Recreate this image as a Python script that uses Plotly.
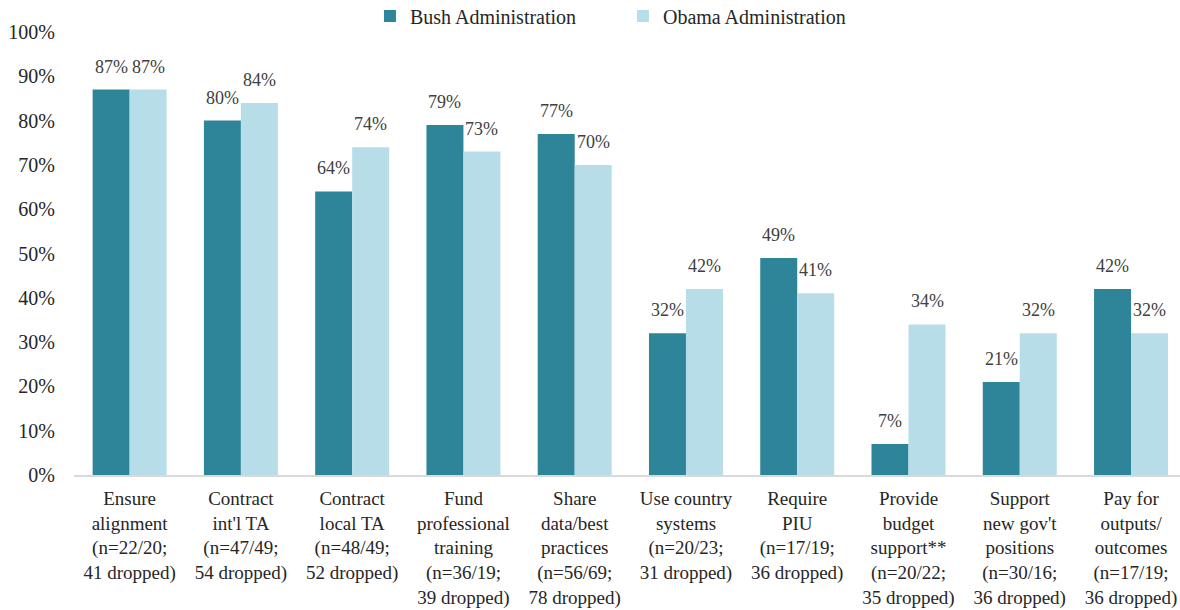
import plotly.graph_objects as go

categories = [
    "Ensure<br>alignment<br>(n=22/20;<br>41 dropped)",
    "Contract<br>int'l TA<br>(n=47/49;<br>54 dropped)",
    "Contract<br>local TA<br>(n=48/49;<br>52 dropped)",
    "Fund<br>professional<br>training<br>(n=36/19;<br>39 dropped)",
    "Share<br>data/best<br>practices<br>(n=56/69;<br>78 dropped)",
    "Use country<br>systems<br>(n=20/23;<br>31 dropped)",
    "Require<br>PIU<br>(n=17/19;<br>36 dropped)",
    "Provide<br>budget<br>support**<br>(n=20/22;<br>35 dropped)",
    "Support<br>new gov't<br>positions<br>(n=30/16;<br>36 dropped)",
    "Pay for<br>outputs/<br>outcomes<br>(n=17/19;<br>36 dropped)",
]
bush = [87, 80, 64, 79, 77, 32, 49, 7, 21, 42]
obama = [87, 84, 74, 73, 70, 42, 41, 34, 32, 32]
y_ticks = list(range(0, 101, 10))

FONT = "Liberation Serif"
TEXT = "#404040"
DARK = "#262626"
BUSH_COLOR = "#2E8499"
OBAMA_COLOR = "#B7DDE8"

idx = list(range(len(categories)))

fig = go.Figure()
fig.add_trace(go.Bar(name="Bush Administration", x=idx, y=bush,
                     marker=dict(color=BUSH_COLOR, line=dict(width=0))))
fig.add_trace(go.Bar(name="Obama Administration", x=idx, y=obama,
                     marker=dict(color=OBAMA_COLOR, line=dict(width=0))))

# value labels centred above each bar of the group
half = (1 - 0.335) / 4
annotations = []
for i in idx:
    for off, val in ((-half, bush[i]), (half, obama[i])):
        annotations.append(dict(
            x=i + off, y=val, xref="x", yref="y", text=f"{val}%",
            showarrow=False, yanchor="bottom", yshift=11,
            font=dict(family=FONT, size=18, color=TEXT)))

fig.update_layout(
    width=1180, height=610,
    margin=dict(l=74, r=0, t=32, b=135, autoexpand=False),
    paper_bgcolor="white", plot_bgcolor="white",
    barmode="group", bargap=0.335, bargroupgap=0,
    font=dict(family=FONT, size=18, color=TEXT),
    legend=dict(orientation="h", x=0.2676, xanchor="left", y=1.036, yanchor="middle",
                font=dict(family=FONT, size=20, color=DARK),
                itemwidth=30, entrywidth=208, entrywidthmode="pixels",
                traceorder="normal", tracegroupgap=0),
    annotations=annotations,
    showlegend=True,
)
fig.update_xaxes(
    tickmode="array", tickvals=idx, ticktext=categories,
    range=[-0.5, 9.44], showgrid=False, zeroline=False,
    showline=True, linecolor="#D9D9D9", linewidth=2,
    ticks="", automargin=False, ticklabelstandoff=5,
    tickfont=dict(family=FONT, size=19, color=DARK),
)
fig.update_yaxes(
    range=[0, 100], tickvals=y_ticks, ticktext=[f"{v}%" for v in y_ticks],
    showgrid=False, zeroline=False, showline=False, ticks="",
    automargin=False, ticklabelstandoff=18,
    tickfont=dict(family=FONT, size=20, color=DARK),
)

fig.write_html("out.html")
